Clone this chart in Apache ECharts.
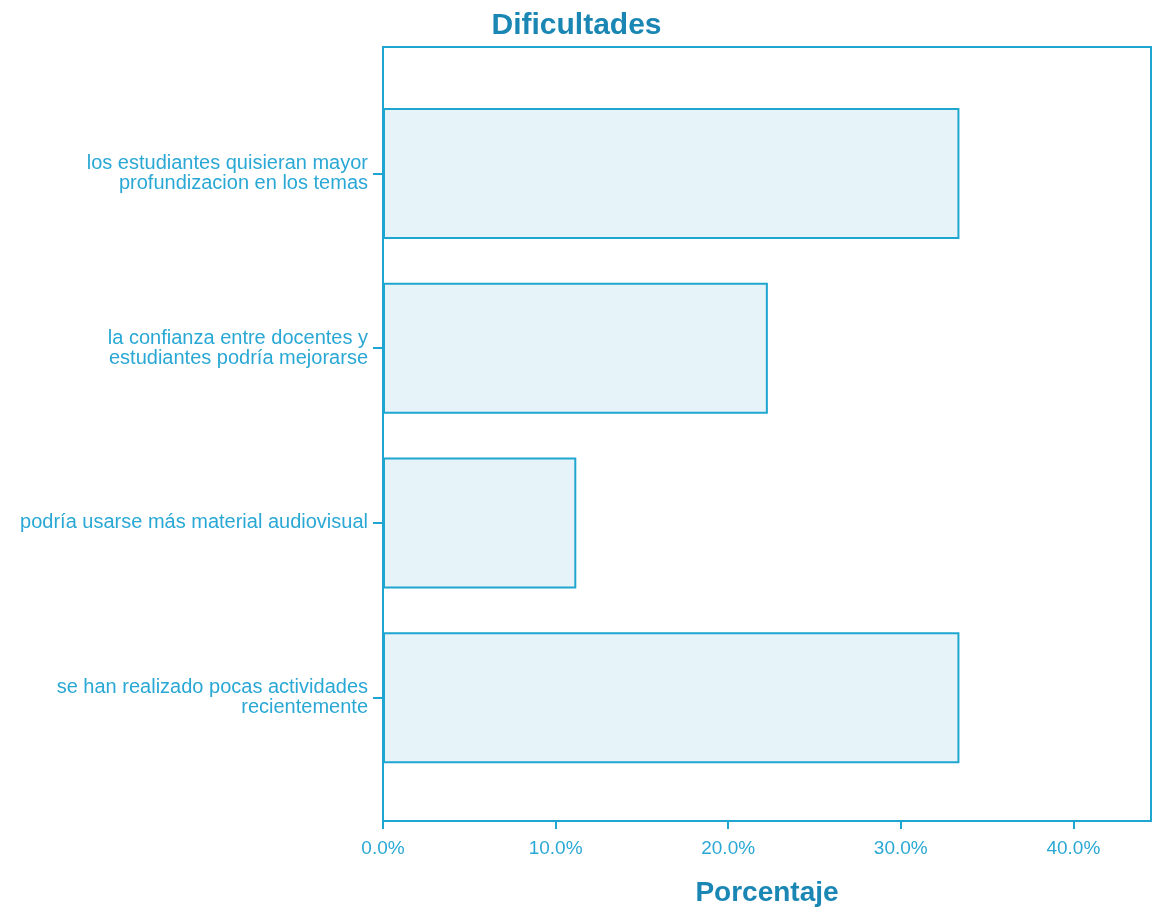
<!DOCTYPE html>
<html>
<head>
<meta charset="utf-8">
<script src="https://cdn.jsdelivr.net/npm/echarts@6/dist/echarts.min.js"></script>
<style>
html,body{margin:0;padding:0;background:#fff;}
#chart{width:1153px;height:912px;}
</style>
</head>
<body>
<div id="chart"></div>
<script>
var title = 'Dificultades';
var xAxisName = 'Porcentaje';
var categories = [
  'los estudiantes quisieran mayor\nprofundizacion en los temas',
  'la confianza entre docentes y\nestudiantes podría mejorarse',
  'podría usarse más material audiovisual',
  'se han realizado pocas actividades\nrecientemente'
];
var values = [33.4, 22.3, 11.2, 33.4];
var xTicks = [0, 10, 20, 30, 40];

var lineColor = '#1fa6d0';
var textColor = '#2aa8d5';
var titleColor = '#1a86b4';
var font = 'Liberation Sans, Arial, sans-serif';

var chart = echarts.init(document.getElementById('chart'));
chart.setOption({
  animation: false,
  backgroundColor: '#ffffff',
  title: {
    text: title,
    left: 'center',
    top: 6,
    textStyle: {color: titleColor, fontSize: 30, fontWeight: 'bold', fontFamily: font}
  },
  grid: [
    {left: 383, right: 2, top: 47, bottom: 88, containLabel: false},
    {left: 383, right: 2, top: 86, bottom: 127, containLabel: false}
  ],
  xAxis: [
    {
      type: 'value', gridIndex: 0, min: 0, max: 44.5, interval: 10,
      name: xAxisName, nameLocation: 'middle', nameGap: 58,
      nameTextStyle: {color: titleColor, fontSize: 28, fontWeight: 'bold', fontFamily: font},
      axisLine: {show: true, onZero: false, lineStyle: {color: lineColor, width: 2}},
      axisTick: {show: true, length: 8, lineStyle: {color: lineColor, width: 2},
        customValues: xTicks},
      axisLabel: {color: textColor, fontSize: 19, fontFamily: font, margin: 18,
        customValues: xTicks,
        formatter: function (v) { return v.toFixed(1) + '%'; }},
      splitLine: {show: false}
    },
    {
      type: 'value', gridIndex: 0, position: 'top', min: 0, max: 44.5,
      axisLine: {show: true, onZero: false, lineStyle: {color: lineColor, width: 2}},
      axisTick: {show: false}, axisLabel: {show: false}, splitLine: {show: false}
    },
    {
      type: 'value', gridIndex: 1, min: 0, max: 44.5, show: false,
      splitLine: {show: false}
    }
  ],
  yAxis: [
    {
      type: 'value', gridIndex: 0, position: 'left', min: 0, max: 1,
      axisLine: {show: true, onZero: false, lineStyle: {color: lineColor, width: 2}},
      axisTick: {show: false}, axisLabel: {show: false}, splitLine: {show: false}
    },
    {
      type: 'value', gridIndex: 0, position: 'right', min: 0, max: 1,
      axisLine: {show: true, onZero: false, lineStyle: {color: lineColor, width: 2}},
      axisTick: {show: false}, axisLabel: {show: false}, splitLine: {show: false}
    },
    {
      type: 'category', gridIndex: 1, data: categories, inverse: true,
      axisLine: {show: false},
      axisTick: {show: true, alignWithLabel: true, length: 10, lineStyle: {color: lineColor, width: 2}},
      axisLabel: {color: textColor, fontSize: 20, fontFamily: font, margin: 15, lineHeight: 20,
        align: 'right', padding: [6, 0, 0, 0]},
      splitLine: {show: false}
    }
  ],
  series: [{
    type: 'bar',
    xAxisIndex: 2,
    yAxisIndex: 2,
    data: values,
    barWidth: 131,
    itemStyle: {color: '#e6f3f8', borderColor: lineColor, borderWidth: 2},
    silent: true
  }]
});
</script>
</body>
</html>
